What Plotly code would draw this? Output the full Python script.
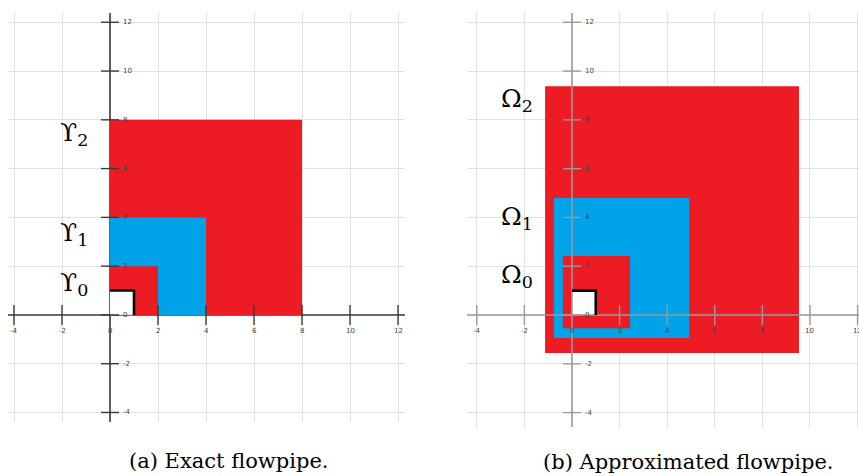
import plotly.graph_objects as go

# ---------------- data ----------------
tick_vals = [-4, -2, 0, 2, 4, 6, 8, 10, 12]
tick_labels = ["-4", "-2", "0", "2", "4", "6", "8", "10", "12"]

# (a) exact flowpipe: nested boxes [x0, x1] x [y0, y1]
exact_x0 = [0, 0, 0]
exact_x1 = [8, 4, 2]
exact_y0 = [0, 0, 0]
exact_y1 = [8, 4, 2]
exact_colors = ["#ED1C24", "#00A2E8", "#ED1C24"]
exact_names = ["ϒ<sub>2</sub>", "ϒ<sub>1</sub>", "ϒ<sub>0</sub>"]
exact_label_x = [-1.5, -1.5, -1.5]
exact_label_y = [7.42, 3.32, 1.27]

# (b) approximated flowpipe
approx_x0 = [-1.13, -0.76, -0.38]
approx_x1 = [9.54, 4.92, 2.44]
approx_y0 = [-1.56, -0.94, -0.54]
approx_y1 = [9.38, 4.80, 2.42]
approx_colors = ["#ED1C24", "#00A2E8", "#ED1C24"]
approx_names = ["Ω<sub>2</sub>", "Ω<sub>1</sub>", "Ω<sub>0</sub>"]
approx_label_x = [-2.3, -2.3, -2.3]
approx_label_y = [8.8, 3.97, 1.6]

# initial set
init_x = [0, 1]
init_y = [0, 1]

captions = ["(a) Exact flowpipe.", "(b) Approximated flowpipe."]

W, H = 859, 476
panels = [
    dict(xa="x", ya="y", xdom=(8, 405), ydom=(13, 422), xr=(-4.25, 12.29), yr=(-4.39, 12.38),
         x0=exact_x0, x1=exact_x1, y0=exact_y0, y1=exact_y1, colors=exact_colors,
         names=exact_names, lx=exact_label_x, ly=exact_label_y, axcol="#3a3a3a", axes_above=False,
         ppu=24.0),
    dict(xa="x2", ya="y2", xdom=(467, 859), ydom=(13, 427), xr=(-4.41, 12.06), yr=(-4.59, 12.38),
         x0=approx_x0, x1=approx_x1, y0=approx_y0, y1=approx_y1, colors=approx_colors,
         names=approx_names, lx=approx_label_x, ly=approx_label_y, axcol="#9a9a9a", axes_above=True,
         ppu=23.8),
]

fig = go.Figure()
annotations = []


def add_axes(p):
    xr, yr = p["xr"], p["yr"]
    fig.add_trace(go.Scatter(x=[xr[0], xr[1], None, 0, 0], y=[0, 0, None, yr[0], yr[1]],
                             mode="lines", line=dict(color=p["axcol"], width=1.6),
                             xaxis=p["xa"], yaxis=p["ya"], hoverinfo="skip", showlegend=False))


for p in panels:
    xa, ya = p["xa"], p["ya"]
    if not p["axes_above"]:
        add_axes(p)
    # boxes
    for a0, a1, b0, b1, c in zip(p["x0"], p["x1"], p["y0"], p["y1"], p["colors"]):
        fig.add_trace(go.Scatter(x=[a0, a1, a1, a0, a0], y=[b0, b0, b1, b1, b0], mode="lines",
                                 fill="toself", fillcolor=c, line=dict(width=0, color=c),
                                 xaxis=xa, yaxis=ya, hoverinfo="skip", showlegend=False))
    # initial set (white with black top/right border)
    fig.add_trace(go.Scatter(x=[init_x[0], init_x[1], init_x[1], init_x[0], init_x[0]],
                             y=[init_y[0], init_y[0], init_y[1], init_y[1], init_y[0]], mode="lines",
                             fill="toself", fillcolor="white", line=dict(width=0, color="white"),
                             xaxis=xa, yaxis=ya, hoverinfo="skip", showlegend=False))
    if p["axes_above"]:
        add_axes(p)
    fig.add_trace(go.Scatter(x=[init_x[0], init_x[1], init_x[1]], y=[init_y[1], init_y[1], init_y[0]],
                             mode="lines", line=dict(color="black", width=2.6),
                             xaxis=xa, yaxis=ya, hoverinfo="skip", showlegend=False))
    # tick marks
    tx, ty = [], []
    hx = 9.0 / p["ppu"]
    hy = 10.0 / 24.4
    for v in tick_vals:
        if v != 0:
            tx += [v, v, None]
            ty += [-hy, hy, None]
    for v in tick_vals:
        tx += [-hx, hx, None]
        ty += [v, v, None]
    fig.add_trace(go.Scatter(x=tx, y=ty, mode="lines", line=dict(color=p["axcol"], width=1.4),
                             xaxis=xa, yaxis=ya, hoverinfo="skip", showlegend=False))
    # tick labels
    for v, t in zip(tick_vals, tick_labels):
        annotations.append(dict(x=v, y=0, xref=xa, yref=ya, text=t, showarrow=False,
                                yshift=-16, font=dict(size=7, color="#444", family="DejaVu Sans")))
        annotations.append(dict(x=0, y=v, xref=xa, yref=ya, text=t, showarrow=False,
                                xanchor="left", xshift=11,
                                font=dict(size=7, color="#444", family="DejaVu Sans")))
    # set labels
    for n, lx, ly in zip(p["names"], p["lx"], p["ly"]):
        annotations.append(dict(x=lx, y=ly, xref=xa, yref=ya, text=n, showarrow=False,
                                xanchor="center", yanchor="middle",
                                font=dict(size=25, color="black", family="DejaVu Serif")))

# captions
annotations.append(dict(x=228 / W, y=1 - 461 / H, xref="paper", yref="paper", text=captions[0],
                        showarrow=False, xanchor="center", yanchor="middle",
                        font=dict(size=21, color="black", family="DejaVu Serif")))
annotations.append(dict(x=688 / W, y=1 - 462 / H, xref="paper", yref="paper", text=captions[1],
                        showarrow=False, xanchor="center", yanchor="middle",
                        font=dict(size=21, color="black", family="DejaVu Serif")))


def axis(dom, rng, total, flip=False):
    if flip:
        d = [1 - dom[1] / total, 1 - dom[0] / total]
    else:
        d = [dom[0] / total, dom[1] / total]
    return dict(domain=d, range=list(rng), dtick=2, tick0=0, showgrid=True, gridcolor="#e2e2e2",
                gridwidth=1.4, zeroline=False, showticklabels=False, ticks="", showline=False,
                fixedrange=True)


layout = dict(width=W, height=H, margin=dict(l=0, r=0, t=0, b=0), paper_bgcolor="white",
              plot_bgcolor="white", showlegend=False, annotations=annotations)
for p, s in zip(panels, ["", "2"]):
    xa = axis(p["xdom"], p["xr"], W)
    ya = axis(p["ydom"], p["yr"], H, flip=True)
    if s:
        xa["anchor"] = "y2"
        ya["anchor"] = "x2"
    layout["xaxis" + s] = xa
    layout["yaxis" + s] = ya

fig.update_layout(**layout)
fig.write_html("out.html")
